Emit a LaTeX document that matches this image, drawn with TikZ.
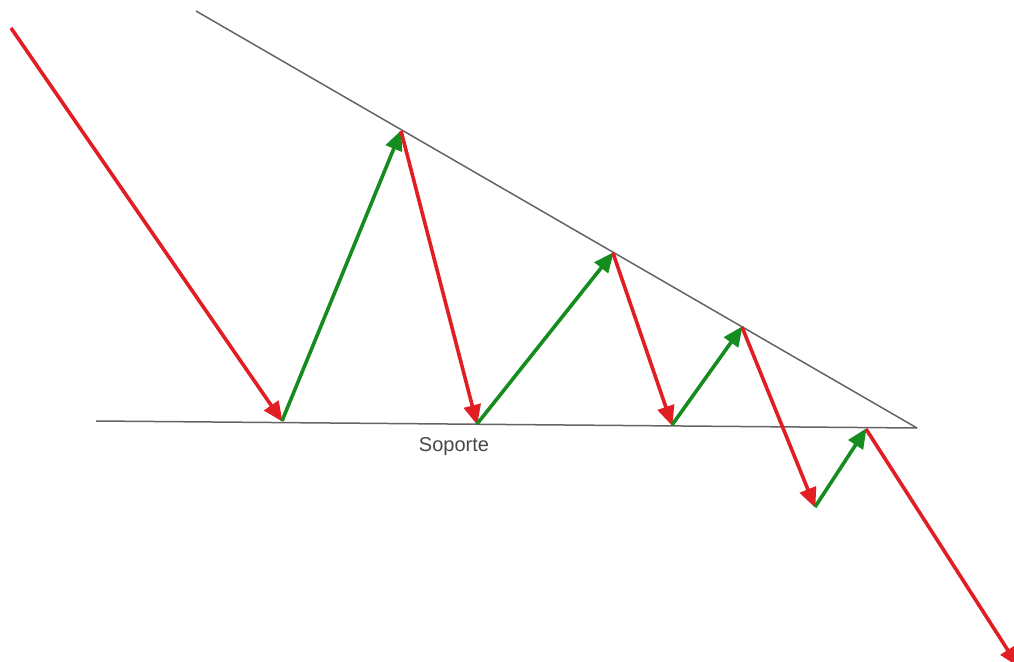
\documentclass[tikz,border=0pt]{standalone}
\usepackage{fontspec}
\setmainfont{Liberation Sans}
\usetikzlibrary{arrows.meta}
\definecolor{upg}{RGB}{20,140,30}
\definecolor{dnr}{RGB}{225,30,35}
\definecolor{trend}{RGB}{100,100,100}
\tikzset{
  trendline/.style={draw=trend,line width=1.5pt},
  uparrow/.style={draw=upg,line width=3.6pt,-{Triangle[length=20pt,width=17pt]},shorten >=-1pt},
  downarrow/.style={draw=dnr,line width=3.6pt,-{Triangle[length=20pt,width=17pt]},shorten >=-1pt},
}
\begin{document}
\begin{tikzpicture}[x=1pt,y=-1pt]
\useasboundingbox (0,0) rectangle (1014,661);
\coordinate (t0) at (196,11);
\coordinate (apex) at (917,428);
\coordinate (s0) at (96,421);
\coordinate (start) at (11,28);
\coordinate (b1) at (282,421);
\coordinate (p1) at (401,131);
\coordinate (b2) at (477,424);
\coordinate (p2) at (613,253);
\coordinate (b3) at (672,425);
\coordinate (p3) at (742,327);
\coordinate (b4) at (815,507);
\coordinate (p4) at (866,429);
\coordinate (end) at (1018,666);
\draw[trendline] (t0) -- (apex);
\draw[trendline] (s0) -- (apex);
\node[font=\fontsize{20}{24}\selectfont,text=black!72] (lbl) at (454,447) {Soporte};
\draw[downarrow] (start) -- (b1);
\draw[uparrow] (b1) -- (p1);
\draw[downarrow] (p1) -- (b2);
\draw[uparrow] (b2) -- (p2);
\draw[downarrow] (p2) -- (b3);
\draw[uparrow] (b3) -- (p3);
\draw[downarrow] (p3) -- (b4);
\draw[uparrow] (b4) -- (p4);
\draw[downarrow] (p4) -- (end);
\end{tikzpicture}
\end{document}
